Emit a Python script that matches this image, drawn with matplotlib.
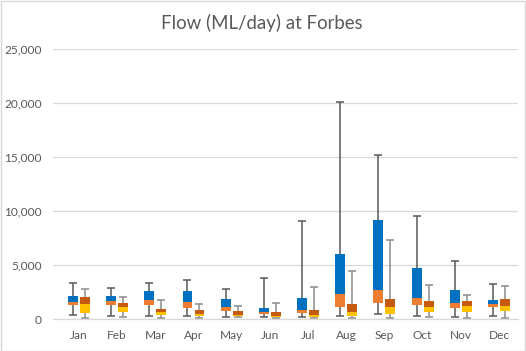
import numpy as np
import matplotlib
matplotlib.use("Agg")
import matplotlib.pyplot as plt
from matplotlib.ticker import StrMethodFormatter
from matplotlib.patches import Rectangle

months = ["Jan", "Feb", "Mar", "Apr", "May", "Jun",
          "Jul", "Aug", "Sep", "Oct", "Nov", "Dec"]

# first box per month (blue over orange, dark whiskers)
a_min = [340, 250, 250, 250, 160, 160, 160, 250, 430, 250, 160, 250]
a_q1 = [1300, 1300, 1300, 1020, 740, 490, 580, 1140, 1510, 1320, 1050, 1140]
a_med = [1570, 1670, 1760, 1570, 1110, 680, 860, 2340, 2690, 1940, 1480, 1390]
a_q3 = [2130, 2130, 2590, 2590, 1850, 1020, 1940, 6020, 9170, 4720, 2690, 1760]
a_max = [3310, 2840, 3310, 3580, 2750, 3770, 9080, 20070, 15160, 9540, 5340, 3210]

# second box per month (dark orange over yellow, grey whiskers)
b_min = [65, 160, 65, 120, 160, 65, 65, 65, 65, 160, 65, 65]
b_q1 = [580, 680, 370, 280, 280, 160, 190, 310, 490, 680, 680, 770]
b_med = [1390, 1110, 650, 460, 370, 280, 400, 650, 1110, 1110, 1200, 1200]
b_q3 = [2040, 1480, 930, 830, 740, 650, 830, 1390, 1850, 1670, 1670, 1850]
b_max = [2750, 2010, 1730, 1360, 1180, 1450, 2940, 4420, 7290, 3120, 2200, 3030]

plt.rcParams["font.family"] = ["Lato", "DejaVu Sans"]

fig = plt.figure(figsize=(5.26, 3.51), dpi=100)
ax = fig.add_axes([53 / 526, 32 / 351, 465 / 526, 270 / 351])

x = np.arange(len(months))
off = 0.157
w = 0.26


def draw_box(xs, lo, q1, med, q3, hi, c_low, c_high, c_whisk):
    q1, med, q3 = np.array(q1), np.array(med), np.array(q3)
    lo, hi = np.array(lo), np.array(hi)
    ax.errorbar(xs, med, yerr=[med - lo, hi - med], fmt="none",
                ecolor=c_whisk, elinewidth=1.1, capsize=3.2, capthick=1.1, zorder=2)
    ax.bar(xs, med - q1, bottom=q1, width=w, color=c_low, zorder=3)
    ax.bar(xs, q3 - med, bottom=med, width=w, color=c_high, zorder=3)


draw_box(x - off, a_min, a_q1, a_med, a_q3, a_max, "#ED7D31", "#0070C0", "#595959")
draw_box(x + off, b_min, b_q1, b_med, b_q3, b_max, "#FFC000", "#C55A11", "#8C8C8C")

ax.set_xlim(-0.68, 11.5)
ax.set_ylim(0, 25000)
ax.set_yticks(np.arange(0, 25001, 5000))
ax.yaxis.set_major_formatter(StrMethodFormatter("{x:,.0f}"))
ax.set_xticks(x)
ax.set_xticklabels(months)
ax.tick_params(length=0, labelsize=8.6, colors="#595959")
ax.tick_params(axis="y", pad=8)
ax.tick_params(axis="x", pad=8)
ax.grid(axis="y", color="#D9D9D9", linewidth=0.9, zorder=0)
ax.set_axisbelow(True)
for s in ["top", "right", "left"]:
    ax.spines[s].set_visible(False)
ax.spines["bottom"].set_color("#D9D9D9")
ax.spines["bottom"].set_linewidth(0.9)

fig.text(262 / 526, 1 - 23 / 351, "Flow (ML/day) at Forbes", ha="center", va="center",
         fontsize=13.4, color="#595959")

fig.patches.append(Rectangle((0.001, 0.001), 0.997, 0.997, transform=fig.transFigure,
                             fill=False, edgecolor="#D9D9D9", linewidth=1))

fig.savefig("out.png", dpi=100)
